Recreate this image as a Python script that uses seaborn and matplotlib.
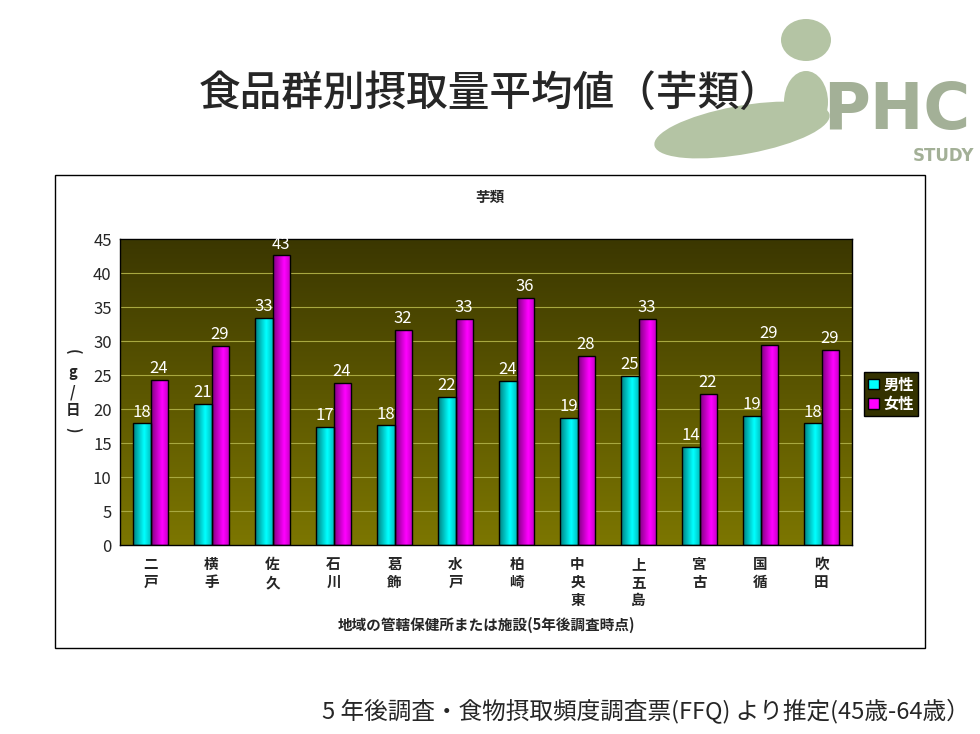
import numpy as np
import pandas as pd
import matplotlib
matplotlib.use('Agg')
import matplotlib.pyplot as plt
import seaborn as sns
from matplotlib.patches import Rectangle, Ellipse, Patch
from matplotlib.colors import to_rgb

# data (g/day)
regions = ['二戸', '横手', '佐久', '石川', '葛飾', '水戸', '柏崎', '中央東', '上五島', '宮古', '国循', '吹田']
men = [17.9, 20.7, 33.4, 17.4, 17.6, 21.8, 24.1, 18.7, 24.9, 14.4, 19.0, 17.9]
women = [24.3, 29.3, 42.6, 23.8, 31.6, 33.2, 36.3, 27.8, 33.2, 22.2, 29.4, 28.7]
sexes = ['男性', '女性']
y_ticks = [0, 5, 10, 15, 20, 25, 30, 35, 40, 45]

sns.set_style('white')
plt.rcParams['font.family'] = ['Noto Sans CJK JP', 'DejaVu Sans']

df = pd.DataFrame({
    'region': regions * 2,
    'value': men + women,
    'sex': [sexes[0]] * len(regions) + [sexes[1]] * len(regions),
})

fig = plt.figure(figsize=(9.8, 7.34), dpi=100)
ax = fig.add_axes([120 / 980, 1 - 545 / 734, 732 / 980, 306 / 734])

cyan = '#00ffff'
magenta = '#ff00ff'
sns.barplot(data=df, x='region', y='value', hue='sex', palette=[cyan, magenta],
            width=0.56, gap=0, edgecolor='black', linewidth=1.0, legend=False,
            errorbar=None, ax=ax, zorder=3)

# olive gradient background
bg = np.linspace(0, 1, 256)[:, None]
top_c = np.array(to_rgb('#3b3700'))
bot_c = np.array(to_rgb('#7c7600'))
bg_img = top_c[None, None, :] * (1 - bg[:, :, None]) + bot_c[None, None, :] * bg[:, :, None]
ax.imshow(bg_img, extent=[0, 1, 0, 1], transform=ax.transAxes, aspect='auto', zorder=0)

# shaded bars
ramp = np.concatenate([np.linspace(0.5, 1.0, 40), np.linspace(1.0, 0.75, 24)])
for i, patch in enumerate(ax.patches):
    h = patch.get_height()
    if h <= 0:
        continue
    base = np.array(to_rgb(cyan if i < len(regions) else magenta))
    grad = (base[None, :] * ramp[:, None])[None, :, :]
    x0 = patch.get_x()
    w = patch.get_width()
    im = ax.imshow(grad, extent=[x0, x0 + w, 0, h], aspect='auto', zorder=2.5)
    im.set_clip_path(patch)
    patch.set_facecolor('none')

ax.set_ylim(0, 45)
ax.set_xlim(-0.5, len(regions) - 0.5)

for c in ax.containers:
    ax.bar_label(c, fmt='%.0f', color='white', fontsize=12, padding=2)

ax.set_yticks(y_ticks)
ax.yaxis.grid(True, color='#a8a840', linewidth=0.8)
for line in ax.get_ygridlines():
    line.set_zorder(1)
ax.set_xticks(range(len(regions)))
ax.set_xticklabels(['\n'.join(r) for r in regions], fontsize=10.5, fontweight='bold',
                   linespacing=1.15, va='top')
ax.set_xticks(np.arange(0.5, len(regions) - 0.5), minor=True)
ax.tick_params(axis='x', which='major', length=0, pad=8)
ax.tick_params(axis='x', which='minor', length=4, direction='in', color='black')
ax.tick_params(axis='y', labelsize=12, length=0, pad=6)
ax.set_xlabel('地域の管轄保健所または施設(5年後調査時点)', fontsize=10.5, fontweight='bold', labelpad=6)
ax.set_ylabel('')
for s in ax.spines.values():
    s.set_color('black')
    s.set_linewidth(1.0)

# outer chart frame
fig.patches.append(Rectangle((55 / 980, 1 - 648 / 734), 870 / 980, 473 / 734,
                             transform=fig.transFigure, fill=False,
                             edgecolor='black', linewidth=1.0))

# chart title and vertical y unit
fig.text(490 / 980, 1 - 197 / 734, '芋類', ha='center', va='center', fontsize=10.5, fontweight='bold')
unit_chars = [('(', -90, 352), ('g', 0, 372), ('/', 0, 392), ('日', 0, 410), (')', -90, 430)]
for ch, rot, ypix in unit_chars:
    fig.text(73 / 980, 1 - ypix / 734, ch, ha='center', va='center', rotation=rot,
             fontsize=10.5, fontweight='bold')

# legend
handles = [Patch(facecolor=cyan, edgecolor='black'), Patch(facecolor=magenta, edgecolor='black')]
leg = fig.legend(handles, sexes, loc='center', bbox_to_anchor=(891 / 980, 1 - 394 / 734),
                 frameon=True, facecolor='#343200', edgecolor='black', fancybox=False,
                 handlelength=0.7, handleheight=0.7, handletextpad=0.3, borderpad=0.3,
                 labelspacing=0.2, prop={'size': 11, 'weight': 'bold'})
leg.get_frame().set_alpha(1)
for t in leg.get_texts():
    t.set_color('white')

# slide title
fig.text(490 / 980, 1 - 93 / 734, '食品群別摂取量平均値（芋類）', ha='center', va='center',
         fontsize=30, fontweight='medium')

# logo
logo_c = '#b4c4a4'
fig.patches.append(Ellipse((806 / 980, 1 - 40 / 734), 50 / 980, 42 / 734, transform=fig.transFigure,
                           facecolor=logo_c, edgecolor='none'))
fig.patches.append(Ellipse((742 / 980, 1 - 130 / 734), 180 / 980, 48 / 734, angle=14,
                           transform=fig.transFigure, facecolor=logo_c, edgecolor='none'))
fig.patches.append(Ellipse((806 / 980, 1 - 102 / 734), 44 / 980, 62 / 734,
                           transform=fig.transFigure, facecolor=logo_c, edgecolor='none'))
fig.text(897 / 980, 1 - 111 / 734, 'PHC', ha='center', va='center', fontsize=46,
         fontweight='bold', color='#a3b097', family='DejaVu Sans')
fig.text(943 / 980, 1 - 156 / 734, 'STUDY', ha='center', va='center', fontsize=12,
         fontweight='bold', color='#a3b097', family='DejaVu Sans')

# footer
fig.text(970 / 980, 1 - 712 / 734, '5 年後調査・食物摂取頻度調査票(FFQ) より推定(45歳-64歳）',
         ha='right', va='center', fontsize=17)

fig.savefig('out.png', dpi=100)
